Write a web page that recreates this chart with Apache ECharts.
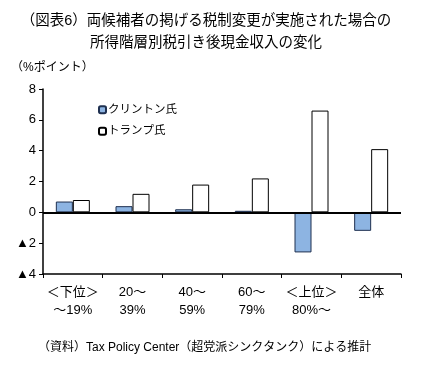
<!DOCTYPE html>
<html><head><meta charset="utf-8">
<script src="https://cdn.jsdelivr.net/npm/echarts@6/dist/echarts.min.js"></script>
<style>html,body{margin:0;padding:0;background:#fff}#c{width:426px;height:370px}</style>
</head><body><div id="c"></div>
<script>
const categories = ['＜下位＞\n～19%', '20～\n39%', '40～\n59%', '60～\n79%', '＜上位＞\n80%～', '全体'];
const clinton = [0.7, 0.4, 0.2, 0.1, -2.6, -1.2];
const trump = [0.8, 1.2, 1.8, 2.2, 6.6, 4.1];
const yTicks = [-4, -2, 0, 2, 4, 6, 8];
const F = "'Liberation Sans', 'Noto Sans CJK JP', sans-serif";
const chart = echarts.init(document.getElementById('c'));
chart.setOption({
  animation: false,
  backgroundColor: '#fff',
  textStyle: { fontFamily: F },
  graphic: [
    { type: 'text', left: 'center', x: 0, style: { text: '' } },
    { type: 'text', x: 206, y: 21, style: { text: '（図表6）両候補者の掲げる税制変更が実施された場合の', align: 'center', verticalAlign: 'middle', fontSize: 14.5, fill: '#000', fontFamily: F } },
    { type: 'text', x: 206, y: 43, style: { text: '所得階層別税引き後現金収入の変化', align: 'center', verticalAlign: 'middle', fontSize: 14.5, fill: '#000', fontFamily: F } },
    { type: 'text', x: 11, y: 68, style: { text: '（%ポイント）', align: 'left', verticalAlign: 'middle', fontSize: 12, fill: '#000', fontFamily: F } },
    { type: 'text', x: 38, y: 348, style: { text: '（資料）Tax Policy Center（超党派シンクタンク）による推計', align: 'left', verticalAlign: 'middle', fontSize: 12, fill: '#000', fontFamily: F } }
  ],
  legend: {
    orient: 'vertical', left: 93, top: 99, itemWidth: 7, itemHeight: 7, itemGap: 10,
    textStyle: { fontSize: 11.5, color: '#000', padding: [0, 0, 0, -3], fontFamily: F },
    data: ['クリントン氏', 'トランプ氏']
  },
  grid: { left: 43, right: 25, top: 89, bottom: 96 },
  xAxis: {
    type: 'category', data: categories,
    axisLine: { onZero: false, lineStyle: { color: '#000', width: 1.5 } },
    axisTick: { show: true, length: 4, lineStyle: { color: '#000' } },
    axisLabel: { color: '#000', fontSize: 13, lineHeight: 18, margin: 9, interval: 0, fontFamily: F }
  },
  yAxis: {
    type: 'value', min: -4, max: 8, interval: 2,
    axisLine: { show: true, lineStyle: { color: '#000', width: 1.5 } },
    axisTick: { show: true, length: 4, lineStyle: { color: '#000' } },
    splitLine: { show: false },
    axisLabel: { color: '#000', fontSize: 13, margin: 7, fontFamily: F,
      formatter: v => (yTicks.includes(v) ? (v < 0 ? '▲' + (-v) : String(v)) : '') }
  },
  series: [
    { name: 'クリントン氏', type: 'bar', data: clinton, barWidth: 17, barGap: '0%',
      itemStyle: { color: '#8db4e2', borderColor: '#1f3050', borderWidth: 1 },
      markLine: { silent: true, symbol: 'none', label: { show: false },
        lineStyle: { color: '#000', width: 2, type: 'solid' }, data: [{ yAxis: 0 }] } },
    { name: 'トランプ氏', type: 'bar', data: trump, barWidth: 17,
      itemStyle: { color: '#fff', borderColor: '#000', borderWidth: 1 } }
  ]
});
</script></body></html>
